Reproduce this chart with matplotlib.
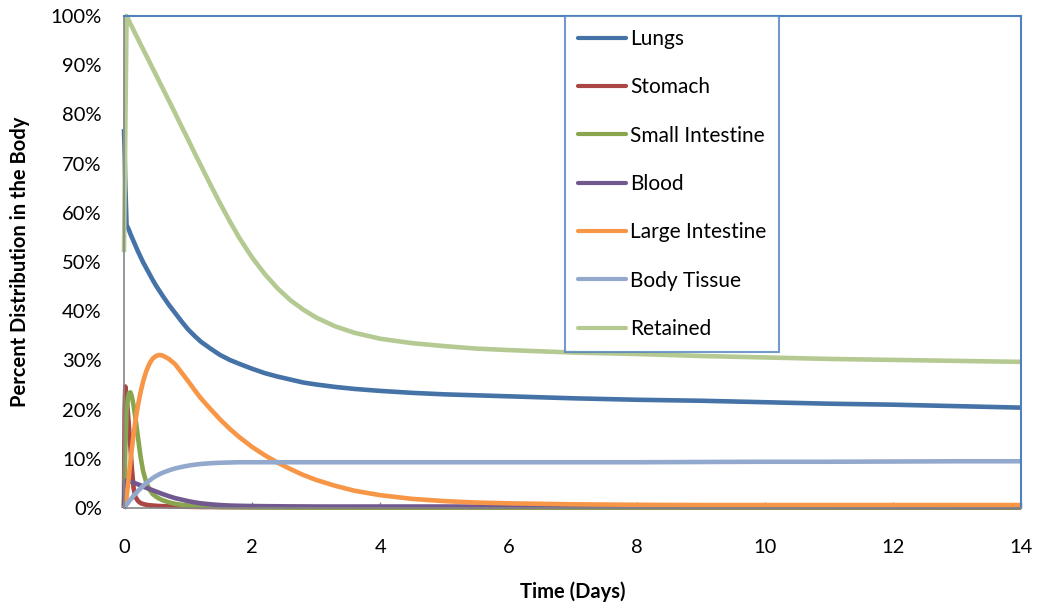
import matplotlib
matplotlib.use("Agg")
import matplotlib.pyplot as plt
from matplotlib.ticker import MultipleLocator, FuncFormatter

plt.rcParams["font.family"] = ["Lato", "DejaVu Sans"]

# Time after intake (days)
time_days = [0, 0.01, 0.02, 0.04, 0.06, 0.08, 0.1, 0.12, 0.15, 0.18,
             0.22, 0.26, 0.3, 0.35, 0.4, 0.45, 0.5, 0.55, 0.6, 0.7,
             0.8, 0.9, 1.0, 1.1, 1.2, 1.35, 1.5, 1.65, 1.8, 2.0,
             2.2, 2.4, 2.6, 2.8, 3.0, 3.3, 3.6, 4.0, 4.5, 5,
             5.5, 6, 7, 8, 9, 10, 11, 12, 13, 14]

# Percent of intake in each compartment
lungs = [77, 72, 66, 57.5, 57.0, 56.4, 55.7, 55.1, 54.2, 53.3,
         52.1, 51.0, 49.9, 48.7, 47.5, 46.3, 45.2, 44.2, 43.2, 41.3,
         39.6, 37.9, 36.3, 35.0, 33.8, 32.4, 31.1, 30.1, 29.3, 28.3,
         27.4, 26.7, 26.1, 25.5, 25.1, 24.6, 24.2, 23.8, 23.4, 23.1,
         22.9, 22.7, 22.3, 22.0, 21.8, 21.5, 21.2, 21.0, 20.7, 20.4]
stomach = [0, 20, 24.7, 22.5, 19.5, 16, 12.5, 8.5, 4, 2.2,
           1.4, 1.0, 0.8, 0.65, 0.55, 0.5, 0.45, 0.4, 0.38, 0.33,
           0.3, 0.27, 0.25, 0.23, 0.2, 0.2, 0.18, 0.17, 0.16, 0.15,
           0.15, 0.14, 0.13, 0.12, 0.12, 0.11, 0.11, 0.1, 0.1, 0.1,
           0.1, 0.1, 0.1, 0.1, 0.1, 0.1, 0.1, 0.1, 0.1, 0.1]
small_intestine = [0, 5, 12, 19.5, 22.3, 23.4, 23.5, 22.8, 20.8, 18.2,
                   14.2, 10.3, 7.4, 5.1, 3.7, 2.8, 2.3, 1.9, 1.6, 1.15,
                   0.85, 0.65, 0.5, 0.4, 0.33, 0.27, 0.22, 0.2, 0.18, 0.15,
                   0.13, 0.12, 0.11, 0.1, 0.1, 0.1, 0.1, 0.1, 0.1, 0.1,
                   0.1, 0.1, 0.1, 0.1, 0.1, 0.1, 0.1, 0.1, 0.1, 0.1]
blood = [0, 5.0, 5.5, 5.6, 5.55, 5.5, 5.4, 5.3, 5.15, 5.0,
         4.8, 4.6, 4.35, 4.1, 3.85, 3.6, 3.35, 3.1, 2.85, 2.4,
         2.0, 1.7, 1.4, 1.15, 0.95, 0.75, 0.6, 0.5, 0.45, 0.4,
         0.37, 0.35, 0.33, 0.32, 0.3, 0.3, 0.3, 0.3, 0.3, 0.3,
         0.28, 0.27, 0.26, 0.25, 0.24, 0.23, 0.22, 0.21, 0.2, 0.2]
large_intestine = [0, 0.2, 0.6, 2.2, 4.5, 7.0, 9.5, 11.8, 15.0, 17.9,
                   21.0, 23.6, 25.8, 27.9, 29.4, 30.4, 30.9, 31.1, 31.0, 30.3,
                   29.2, 27.5, 25.8, 24.0, 22.3, 20.1, 18.0, 16.1, 14.4, 12.4,
                   10.7, 9.2, 7.9, 6.7, 5.7, 4.5, 3.5, 2.6, 1.85, 1.4,
                   1.1, 0.95, 0.75, 0.65, 0.6, 0.6, 0.6, 0.6, 0.6, 0.6]
body_tissue = [0, 0.1, 0.3, 0.7, 1.0, 1.4, 1.7, 2.0, 2.5, 2.9,
               3.5, 4.0, 4.5, 5.1, 5.6, 6.1, 6.5, 6.85, 7.15, 7.65,
               8.05, 8.35, 8.6, 8.8, 8.95, 9.1, 9.2, 9.25, 9.3, 9.3,
               9.3, 9.3, 9.3, 9.3, 9.3, 9.3, 9.3, 9.3, 9.3, 9.3,
               9.3, 9.3, 9.3, 9.3, 9.35, 9.4, 9.4, 9.45, 9.5, 9.5]
retained = [52, 64, 76, 100, 99.5, 99.0, 98.4, 97.9, 97.1, 96.3,
            95.3, 94.2, 93.2, 91.9, 90.6, 89.3, 88.0, 86.7, 85.4, 82.8,
            80.2, 77.5, 74.9, 72.2, 69.6, 65.7, 61.9, 58.3, 54.9, 50.9,
            47.5, 44.6, 42.2, 40.3, 38.7, 36.9, 35.6, 34.4, 33.5, 32.9,
            32.4, 32.1, 31.6, 31.3, 30.9, 30.6, 30.3, 30.1, 29.9, 29.7]

series_names = ["Lungs", "Stomach", "Small Intestine", "Blood",
                "Large Intestine", "Body Tissue", "Retained"]
series_values = [lungs, stomach, small_intestine, blood,
                 large_intestine, body_tissue, retained]
series_colors = ["#4572A7", "#AA4643", "#89A54E", "#71588F",
                 "#F79646", "#92A8CD", "#B5CA92"]

fig = plt.figure(figsize=(10.39, 6.09), dpi=100)
ax = fig.add_axes([124 / 1039, 1 - 508 / 609, (1021 - 124) / 1039, (508 - 16) / 609])

for name, vals, col in zip(series_names, series_values, series_colors):
    ax.plot(time_days, vals, color=col, lw=3.3, label=name, clip_on=False,
            solid_capstyle="butt", solid_joinstyle="round")

ax.set_xlim(0, 14)
ax.set_ylim(0, 100)
ax.xaxis.set_major_locator(MultipleLocator(2))
ax.xaxis.set_minor_locator(MultipleLocator(0.4))
ax.yaxis.set_major_locator(MultipleLocator(10))
ax.yaxis.set_major_formatter(FuncFormatter(lambda v, p: f"{v:.0f}%"))

ax.tick_params(axis="x", which="major", direction="in", length=4, width=1,
               color="#868686", pad=22, labelsize=14.5)
ax.tick_params(axis="x", which="minor", direction="in", length=2.5, width=1,
               color="#868686")
ax.tick_params(axis="y", which="major", length=0, pad=16, labelsize=14.5)

for side in ("left", "bottom"):
    ax.spines[side].set_color("#868686")
    ax.spines[side].set_linewidth(1.2)
for side in ("top", "right"):
    ax.spines[side].set_color("#4F81BD")
    ax.spines[side].set_linewidth(1.5)

ax.set_xlabel("Time (Days)", fontsize=14.5, fontweight="bold", va="center")
ax.xaxis.set_label_coords(0.5, -(592 - 508) / 492)
ax.set_ylabel("Percent Distribution in the Body", fontsize=14.5,
              fontweight="bold", va="center")
ax.yaxis.set_label_coords(-(124 - 20) / 897, 0.5)

leg = ax.legend(loc="upper left",
                bbox_to_anchor=((565 - 124) / 897, 1.0),
                borderaxespad=0, fontsize=15, frameon=True, fancybox=False,
                handlelength=2.3, handletextpad=0.2, labelspacing=1.36,
                borderpad=0.62)
leg.get_frame().set_edgecolor("#4F81BD")
leg.get_frame().set_linewidth(1.5)
for line in leg.get_lines():
    line.set_linewidth(3.0)
    line.set_solid_capstyle("round")

fig.savefig("out.png", dpi=100)
